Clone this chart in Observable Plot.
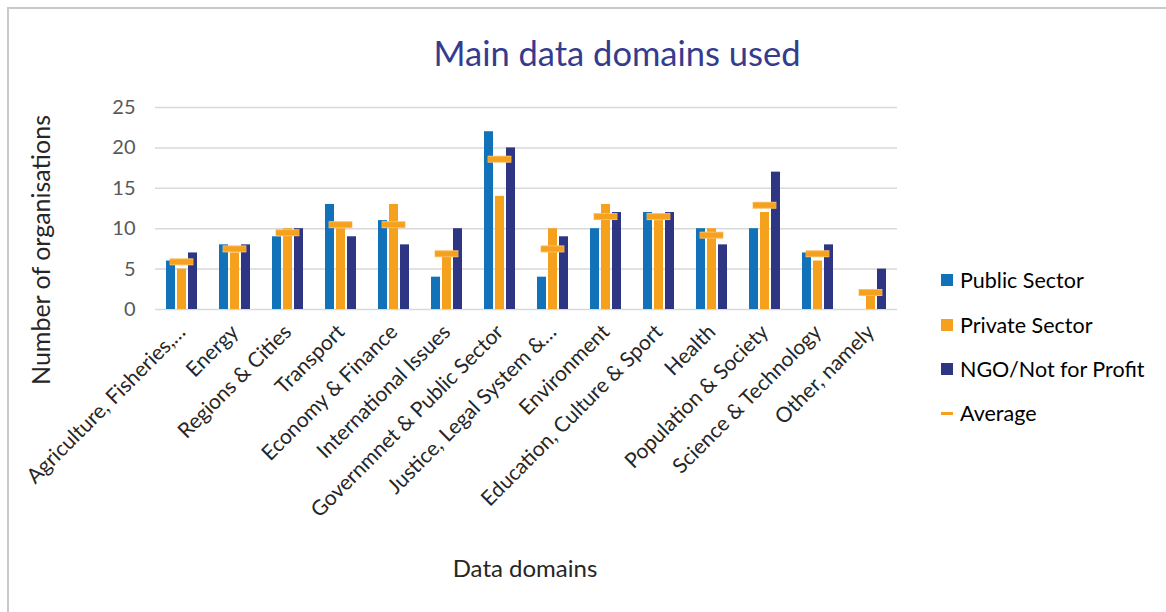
<!DOCTYPE html>
<html>
<head>
<meta charset="utf-8">
<script src="https://cdn.jsdelivr.net/npm/d3@7"></script>
<script src="https://cdn.jsdelivr.net/npm/@observablehq/plot@0.6"></script>
<style>
  html, body { margin: 0; padding: 0; background: #fff; }
  #wrap { position: relative; width: 1166px; height: 612px; overflow: hidden; font-family: Lato, "Open Sans", sans-serif; }
  #frame { position: absolute; left: 7px; top: 7px; right: -4px; bottom: -4px; border-left: 2px solid #c9c9c9; border-top: 2px solid #c9c9c9; }
  #title { position: absolute; left: 617px; top: 52px; transform: translate(-50%, -50%); font-size: 34.5px; color: #353c8e; white-space: nowrap; }
  #ylab { position: absolute; left: 40px; top: 250px; transform: translate(-50%, -50%) rotate(-90deg); font-size: 25px; color: #262626; white-space: nowrap; }
  #xlab { position: absolute; left: 525px; top: 567px; transform: translate(-50%, -50%); font-size: 24px; color: #262626; white-space: nowrap; }
  .leg { position: absolute; left: 941px; font-size: 21.5px; color: #000; white-space: nowrap; display: flex; align-items: center; transform: translateY(-50%); }
  .sw { width: 12px; height: 12px; margin-right: 7px; }
  .dash { width: 12px; height: 3px; margin-right: 7px; }
  #plot { position: absolute; left: 0; top: 0; }
</style>
</head>
<body>
<div id="wrap">
  <div id="frame"></div>
  <div id="plot"></div>
  <div id="title"></div>
  <div id="ylab"></div>
  <div id="xlab"></div>
  <div id="legend"></div>
</div>
<script>
const title = "Main data domains used";
const yTitle = "Number of organisations";
const xTitle = "Data domains";
const domains = [
  "Agriculture, Fisheries,…", "Energy", "Regions & Cities", "Transport",
  "Economy & Finance", "International Issues", "Governmnet & Public Sector",
  "Justice, Legal System &…", "Environment", "Education, Culture & Sport",
  "Health", "Population & Society", "Science & Technology", "Other, namely"
];
const sectors = ["Public Sector", "Private Sector", "NGO/Not for Profit"];
const averageLabel = "Average";
const publicSector  = [6, 8, 9, 13, 11, 4, 22, 4, 10, 12, 10, 10, 7, 0];
const privateSector = [5, 7, 10, 10, 13, 7, 14, 10, 13, 11, 10, 12, 6, 2];
const ngoSector     = [7, 8, 10, 9, 8, 10, 20, 9, 12, 12, 8, 17, 8, 5];
const average       = [5.9, 7.5, 9.5, 10.5, 10.5, 6.9, 18.6, 7.5, 11.5, 11.5, 9.2, 12.9, 6.9, 2.1];
const yTicks = [0, 5, 10, 15, 20, 25];
const colors = ["#1172b9", "#f6a11d", "#2e3583"];
const avgColor = "#f6a11d";

const seriesValues = [publicSector, privateSector, ngoSector];
const rows = [];
domains.forEach((d, i) => sectors.forEach((s, j) => rows.push({domain: d, sector: s, value: seriesValues[j][i]})));
const avgRows = domains.map((d, i) => ({domain: d, value: average[i]}));

const chart = Plot.plot({
  width: 1166,
  height: 612,
  marginTop: 107,
  marginBottom: 303,
  marginLeft: 153,
  marginRight: 268,
  style: {fontFamily: "Lato, 'Open Sans', sans-serif", fontSize: "21px", color: "#262626", background: "transparent"},
  fx: {domain: domains, padding: 0, label: null, tickRotate: -45, tickSize: 0, tickPadding: 19},
  x: {domain: sectors, paddingInner: 0.2, paddingOuter: 0.855, axis: null},
  y: {domain: [0, 25], ticks: yTicks, tickSize: 0, tickPadding: 20, label: null},
  color: {domain: sectors, range: colors},
  marks: [
    Plot.ruleY(yTicks, {stroke: "#d9d9d9", strokeWidth: 1.5}),
    Plot.barY(rows, {fx: "domain", x: "sector", y: "value", fill: "sector"}),
    Plot.tickY(avgRows, {fx: "domain", y: "value", stroke: "#f9bf66", strokeWidth: 7, insetLeft: 14.6, insetRight: 14.6}),
    Plot.tickY(avgRows, {fx: "domain", y: "value", stroke: avgColor, strokeWidth: 5, insetLeft: 15.1, insetRight: 15.1})
  ]
});
document.getElementById("plot").appendChild(chart);

// y tick labels grey and a bit smaller than the category labels
chart.querySelectorAll('g[aria-label="y-axis tick label"] text, g[aria-label="y-axis"] text').forEach(t => {
  t.setAttribute("fill", "#595959");
  t.style.fontSize = "20px";
});

document.getElementById("title").textContent = title;
document.getElementById("ylab").textContent = yTitle;
document.getElementById("xlab").textContent = xTitle;

const legendY = [280, 325, 369, 413];
const legend = document.getElementById("legend");
sectors.forEach((s, i) => {
  const div = document.createElement("div");
  div.className = "leg";
  div.style.top = legendY[i] + "px";
  div.innerHTML = `<span class="sw" style="background:${colors[i]}"></span><span></span>`;
  div.lastChild.textContent = s;
  legend.appendChild(div);
});
const avgDiv = document.createElement("div");
avgDiv.className = "leg";
avgDiv.style.top = legendY[3] + "px";
avgDiv.innerHTML = `<span class="dash" style="background:${avgColor}"></span><span></span>`;
avgDiv.lastChild.textContent = averageLabel;
legend.appendChild(avgDiv);
</script>
</body>
</html>
